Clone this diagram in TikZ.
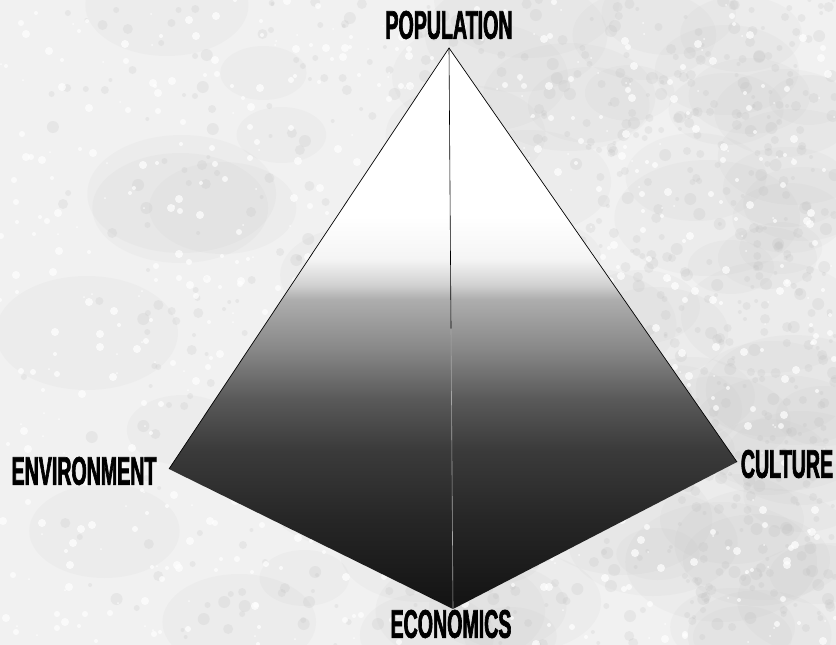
\documentclass[tikz,border=0pt]{standalone}
\usepackage{fontspec}
\usepackage{xcolor}
\usepackage{tikz}
\usetikzlibrary{calc}
\newfontfamily\labelfont[FakeStretch=0.49, FakeBold=1.6]{Liberation Sans}

\definecolor{paper}{HTML}{F1F1F1}
\definecolor{mottle}{HTML}{B8B8B8}

\pgfdeclareverticalshading{pyramidfade}{100bp}{color(0bp)=(black!92);
    color(25.8bp)=(black!92); color(33bp)=(black!85); color(39.2bp)=(black!77);
    color(43.7bp)=(black!65); color(48.1bp)=(black!47); color(52.6bp)=(black!32);
    color(53.9bp)=(black!18); color(56.2bp)=(black!4); color(60bp)=(white);
    color(100bp)=(white)}

\tikzstyle{tsLabel} = [
    text=black,
    font=\labelfont\bfseries\fontsize{40}{44}\selectfont,
    inner sep=0pt
]
\tikzstyle{tsEdge} = [
    draw=black,
    line width=0.7pt
]

\begin{document}
\begin{tikzpicture}[x=1pt, y=-1pt]

        \useasboundingbox (0,0) rectangle (836,645);
        \fill[paper] (0,0) rectangle (836,645);

        % grey clouds, then fine mottling
        \pgfmathsetseed{12}
        \foreach \i in {1,...,90}{
            \pgfmathsetmacro{\bx}{836*sqrt(rnd)}
            \pgfmathsetmacro{\by}{random(0,645)}
            \pgfmathsetmacro{\br}{random(25,60)}
            \fill[mottle, opacity=0.08] (\bx,\by) ellipse[x radius=1.6*\br, y radius=\br];
        }
        \foreach \i in {1,...,900}{
            \pgfmathsetmacro{\bx}{836*sqrt(rnd)}
            \pgfmathsetmacro{\by}{random(0,645)}
            \pgfmathsetmacro{\br}{random(2,6)}
            \fill[mottle, opacity=0.18] (\bx,\by) circle[radius=\br];
        }
        \foreach \i in {1,...,700}{
            \pgfmathsetmacro{\bx}{random(0,836)}
            \pgfmathsetmacro{\by}{random(0,645)}
            \pgfmathsetmacro{\br}{random(1,4)}
            \fill[white, opacity=0.7] (\bx,\by) circle[radius=\br];
        }

        \coordinate (apex) at (449,48);
        \coordinate (left) at (169,469);
        \coordinate (right) at (737,462);
        \coordinate (base) at (453,609);

        \shade[shading=pyramidfade] (apex) -- (left) -- (base) -- (right) -- cycle;
        \draw[tsEdge] (left) -- (apex) -- (right);
        \draw[line width=0.6pt] (apex) -- ($(apex)!0.5!(base)$) coordinate (ridge);
        \draw[line width=0.6pt, black!35] (ridge) -- (base);

        \node[tsLabel] (population) at (449,25) {POPULATION};
        \node[tsLabel] (environment) at (84,471) {ENVIRONMENT};
        \node[tsLabel] (culture) at (787,464) {CULTURE};
        \node[tsLabel] (economics) at (451,624) {ECONOMICS};

\end{tikzpicture}
\end{document}
